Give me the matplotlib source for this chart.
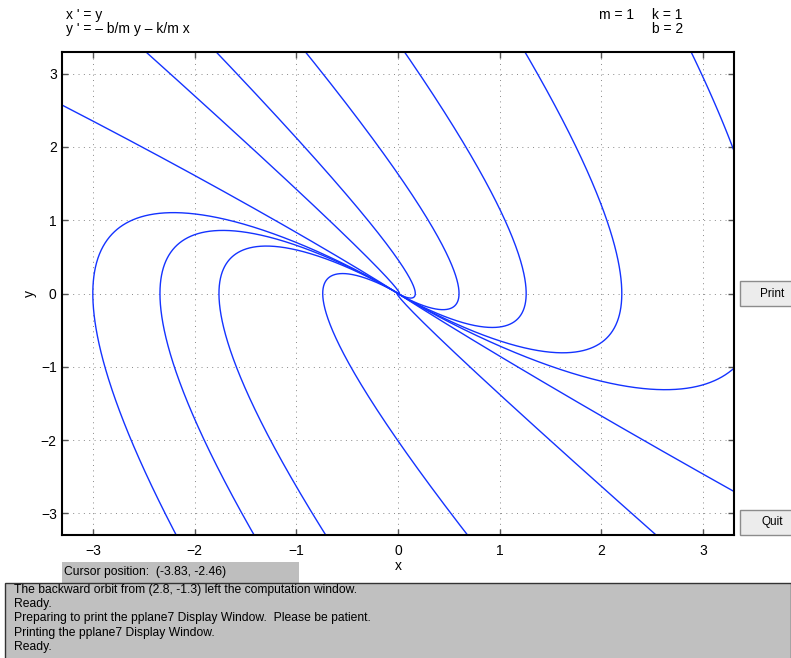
import matplotlib
matplotlib.use("Agg")
import matplotlib.pyplot as plt
from matplotlib.patches import Rectangle
import numpy as np

# system: x' = y, y' = -b/m y - k/m x
m = 1.0
k = 1.0
b = 2.0

# starting points of the drawn orbits
# loops: the point where each orbit crosses y = 0
loop_x0 = [0.17, 0.6, 1.26, 2.2, -0.74, -1.76, -2.34, -3.0]
# other orbits: where they enter/leave the window
edge_x0 = [-2.48, -3.3, 2.88, 2.8, 3.3, 2.54]
edge_y0 = [3.3, 2.57, 3.3, -1.3, -2.70, -3.3]

status_lines = [
    "The backward orbit from (2.8, -1.3) left the computation window.",
    "Ready.",
    "Preparing to print the pplane7 Display Window.  Please be patient.",
    "Printing the pplane7 Display Window.",
    "Ready.",
]

W, H = 791, 658
plt.rcParams['font.family'] = ['Liberation Sans', 'DejaVu Sans']

# computation window (a bit larger than the display window)
LIM = 3.45


def field(p):
    return np.array([p[1], -b / m * p[1] - k / m * p[0]])


def orbit(p0, direction, dt=0.005, tmax=40.0):
    pts = [np.array(p0, dtype=float)]
    h = direction * dt
    p = pts[0]
    for _ in range(int(tmax / dt)):
        k1 = field(p)
        k2 = field(p + h / 2 * k1)
        k3 = field(p + h / 2 * k2)
        k4 = field(p + h * k3)
        p = p + h / 6 * (k1 + 2 * k2 + 2 * k3 + k4)
        pts.append(p)
        if abs(p[0]) > LIM or abs(p[1]) > LIM or np.hypot(p[0], p[1]) < 1e-4:
            break
    return np.array(pts)


def full_orbit(x0, y0):
    back = orbit((x0, y0), -1)[::-1]
    fwd = orbit((x0, y0), 1)
    return np.vstack([back, fwd[1:]])


def fx(px):
    return px / W


def fy(py):
    return 1 - py / H


fig = plt.figure(figsize=(W / 100, H / 100), dpi=100)
ax = fig.add_axes([fx(62.3), fy(535.3), (733.7 - 62.3) / W, (535.3 - 51.7) / H])

starts = [(x, 0.0) for x in loop_x0] + list(zip(edge_x0, edge_y0))
for x0, y0 in starts:
    tr = full_orbit(x0, y0)
    ax.plot(tr[:, 0], tr[:, 1], color='#1433ff', lw=1.0)

ax.set_xlim(-3.3, 3.3)
ax.set_ylim(-3.3, 3.3)
ax.set_xticks(np.arange(-3, 4))
ax.set_yticks(np.arange(-3, 4))
ax.tick_params(direction='in', length=4, width=1, color='#555555', labelsize=10,
               top=True, right=True)
ax.tick_params(axis='x', pad=6)
ax.tick_params(axis='y', pad=4)
ax.grid(True, color='#888888', ls=(0, (1, 4.5)), lw=0.7)
for sp in ax.spines.values():
    sp.set_linewidth(1.5)
    sp.set_color('black')

ax.set_xlabel("x", fontsize=10, labelpad=1)
ax.set_ylabel("y", fontsize=10, labelpad=3)

# header text
fig.text(fx(66), fy(19), "x ' = y", fontsize=10, va='baseline')
fig.text(fx(66), fy(33), "y ' = \u2013 b/m y \u2013 k/m x", fontsize=10, va='baseline')
fig.text(fx(599), fy(19), "m = 1", fontsize=10, va='baseline')
fig.text(fx(652), fy(19), "k = 1", fontsize=10, va='baseline')
fig.text(fx(652), fy(33), "b = 2", fontsize=10, va='baseline')

# buttons
for label, top, bot in [("Print", 281.5, 306), ("Quit", 510, 535)]:
    fig.patches.append(Rectangle((fx(740), fy(bot)), fx(60), (bot - top) / H,
                                 transform=fig.transFigure, facecolor='#ececec',
                                 edgecolor='#8c8c8c', lw=1))
    fig.text(fx(772), fy((top + bot) / 2), label, fontsize=8.5, ha='center', va='center')

# cursor position box
fig.patches.append(Rectangle((fx(62.3), fy(583)), (299 - 62.3) / W, (583 - 562) / H,
                             transform=fig.transFigure, facecolor='#bebebe',
                             edgecolor='none'))
fig.text(fx(64), fy(572.5), "Cursor position:  (-3.83, -2.46)", fontsize=8.7, va='center')

# message box
fig.patches.append(Rectangle((fx(5), fy(660)), (W - 5) / W, (660 - 583) / H,
                             transform=fig.transFigure, facecolor='#c0c0c0',
                             edgecolor='#333333', lw=1))
for i, line in enumerate(status_lines):
    fig.text(fx(14), fy(590 + 14.2 * i), line, fontsize=8.7, va='center')

plt.savefig("out.png", dpi=100)
